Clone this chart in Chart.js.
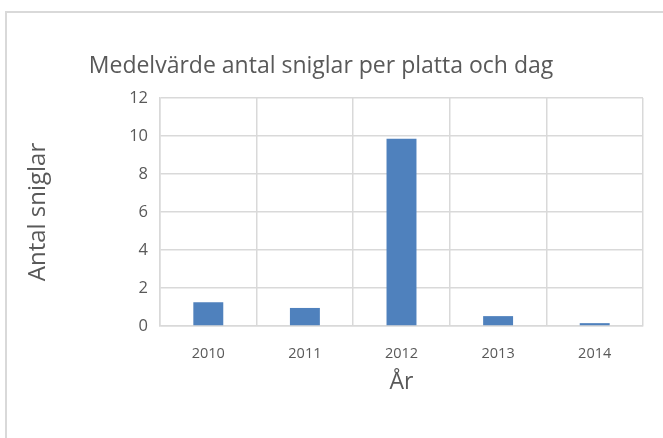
<!DOCTYPE html>
<html>
<head>
<meta charset="utf-8">
<script src="https://cdn.jsdelivr.net/npm/chart.js@4/dist/chart.umd.min.js"></script>
<style>
  html, body { margin: 0; padding: 0; background: #fff; }
  #wrap { position: relative; width: 663px; height: 438px; overflow: hidden; }
  #ram { position: absolute; left: 5px; top: 11px; width: 700px; height: 500px; border: 2px solid #d9d9d9; }
  #myChart { position: absolute; left: 0; top: 0; }
</style>
</head>
<body>
<div id="wrap">
  <div id="ram"></div>
  <canvas id="myChart" width="663" height="438"></canvas>
</div>
<script>
// Data
const years = ["2010", "2011", "2012", "2013", "2014"];
const sniglar = [1.25, 0.95, 9.85, 0.52, 0.15];
const yTicks = [0, 2, 4, 6, 8, 10, 12];

const chartTitle = "Medelvärde antal sniglar per platta och dag";
const fontFam = "'Open Sans', sans-serif";
const textColor = "#595959";
const gridColor = "#d9d9d9";

// Titel utanför centrum, som i Excel-diagrammet
const titlePlugin = {
  id: "excelTitle",
  afterDraw(chart) {
    const ctx = chart.ctx;
    ctx.save();
    ctx.font = "23px " + fontFam;
    ctx.fillStyle = textColor;
    ctx.textAlign = "center";
    ctx.textBaseline = "alphabetic";
    ctx.fillText(chartTitle, 321, 73);
    ctx.restore();
  },
};

const ctx = document.getElementById("myChart").getContext("2d");

let myChart = new Chart(ctx, {
  type: "bar",
  data: {
    labels: years,
    datasets: [
      {
        label: "Antal sniglar",
        data: sniglar,
        backgroundColor: "#4f81bd",
        categoryPercentage: 1,
        barPercentage: 0.31,
      },
    ],
  },
  options: {
    responsive: false,
    animation: false,
    layout: {
      padding: { left: 24, right: 20, top: 98, bottom: 42 },
    },
    plugins: {
      legend: { display: false },
      title: { display: false },
      tooltip: { enabled: false },
    },
    scales: {
      x: {
        grid: { color: gridColor, lineWidth: 1.5, drawTicks: false },
        border: { color: gridColor, width: 1.5 },
        ticks: { color: textColor, font: { family: fontFam, size: 14.5 }, padding: 19 },
        title: {
          display: true,
          text: "År",
          color: textColor,
          font: { family: fontFam, size: 23 },
          padding: 0,
        },
        afterFit(scale) {
          scale.height = 70;
        },
      },
      y: {
        min: 0,
        max: 12,
        afterBuildTicks(scale) {
          scale.ticks = yTicks.map((v) => ({ value: v }));
        },
        grid: { color: gridColor, lineWidth: 1.5, drawTicks: false },
        border: { color: gridColor, width: 1.5 },
        ticks: { color: textColor, font: { family: fontFam, size: 16.5 }, padding: 12 },
        title: {
          display: true,
          text: "Antal sniglar",
          color: textColor,
          font: { family: fontFam, size: 24 },
          padding: 0,
        },
        afterFit(scale) {
          scale.width = 136;
        },
      },
    },
  },
  plugins: [titlePlugin],
});
</script>
</body>
</html>
